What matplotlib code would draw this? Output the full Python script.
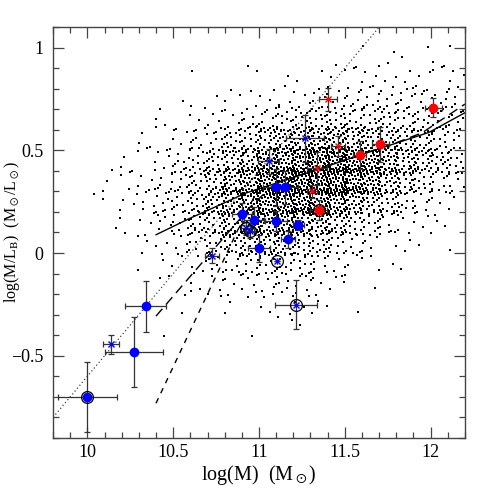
import numpy as np
import matplotlib
matplotlib.use("Agg")
import matplotlib.pyplot as plt
from matplotlib.ticker import MultipleLocator, FuncFormatter

plt.rcParams['font.family'] = ['Liberation Serif', 'DejaVu Serif']
plt.rcParams['mathtext.fontset'] = 'stix'

# ---------------- data ----------------
# density of the background sample (counts per 0.1 x 0.1 cell)
grid_x_left = [10.0, 10.1, 10.2, 10.3, 10.4, 10.5, 10.6, 10.7, 10.8, 10.9, 11.0,
               11.1, 11.2, 11.3, 11.4, 11.5, 11.6, 11.7, 11.8, 11.9, 12.0, 12.1]
grid_y_low = [0.9, 0.8, 0.7, 0.6, 0.5, 0.4, 0.3, 0.2, 0.1, 0.0, -0.1, -0.2, -0.3, -0.4]
grid_counts = [
    [0, 0, 0, 0, 0, 0, 0, 0, 0, 0, 0, 0, 0, 0, 0, 1, 1, 2, 1, 2, 1, 2],
    [0, 0, 0, 0, 0, 1, 0, 0, 0, 1, 1, 1, 1, 2, 2, 3, 3, 3, 3, 4, 3, 3],
    [0, 0, 0, 0, 0, 1, 1, 2, 2, 3, 4, 4, 5, 6, 6, 7, 8, 7, 7, 8, 6, 5],
    [0, 0, 0, 1, 2, 2, 3, 5, 6, 8, 10, 12, 14, 15, 15, 14, 14, 13, 12, 12, 10, 8],
    [0, 0, 1, 2, 3, 4, 7, 10, 14, 18, 22, 26, 30, 32, 32, 30, 27, 22, 18, 16, 14, 10],
    [0, 1, 2, 3, 5, 8, 12, 18, 24, 30, 40, 46, 52, 56, 58, 55, 48, 38, 28, 22, 18, 12],
    [1, 2, 3, 4, 7, 11, 16, 24, 32, 42, 52, 58, 62, 64, 62, 55, 42, 30, 22, 15, 10, 6],
    [1, 2, 3, 5, 8, 12, 18, 26, 34, 42, 50, 55, 55, 50, 44, 36, 26, 18, 12, 7, 4, 2],
    [0, 1, 2, 4, 6, 10, 15, 20, 26, 32, 36, 38, 36, 30, 24, 18, 12, 8, 5, 3, 2, 1],
    [0, 0, 1, 2, 4, 6, 9, 13, 17, 21, 24, 24, 20, 16, 12, 8, 5, 3, 2, 1, 1, 0],
    [0, 0, 0, 1, 2, 3, 5, 7, 9, 11, 12, 12, 10, 7, 5, 3, 2, 1, 1, 0, 0, 0],
    [0, 0, 0, 0, 1, 2, 2, 3, 4, 5, 6, 6, 5, 4, 2, 1, 1, 0, 0, 0, 0, 0],
    [0, 0, 0, 0, 0, 1, 1, 1, 2, 2, 2, 3, 2, 2, 1, 1, 0, 0, 0, 0, 0, 0],
    [0, 0, 0, 0, 1, 0, 0, 0, 0, 1, 0, 1, 1, 0, 0, 0, 0, 0, 0, 0, 0, 0],
]

# model curves
solid_x = [10.40, 10.60, 10.80, 10.92, 11.10, 11.30, 11.59, 11.80, 11.99, 12.20]
solid_y = [0.089, 0.170, 0.245, 0.291, 0.340, 0.395, 0.477, 0.535, 0.587, 0.683]
longdash_x = [10.40, 10.60, 10.80, 10.95, 11.05, 11.10, 11.30, 11.59, 11.80, 11.95, 12.20]
longdash_y = [-0.307, -0.113, 0.080, 0.225, 0.305, 0.342, 0.397, 0.479, 0.537, 0.585, 0.725]
shortdash_x = [10.40, 10.60, 10.80, 10.90, 11.00]
shortdash_y = [-0.731, -0.377, -0.023, 0.154, 0.320]
dotted_x = [9.80, 11.70]
dotted_y = [-0.80, 1.10]

# blue filled circles
bc_x = [10.00, 10.34, 10.27, 10.90, 10.97, 11.10, 11.23, 11.17, 11.00, 11.10, 11.15]
bc_y = [-0.70, -0.26, -0.48, 0.19, 0.163, 0.157, 0.137, 0.066, 0.024, 0.32, 0.32]
bc_xerr = [0.17, 0.12, 0.17, 0.058, 0.06, 0.066, 0.03, 0.04, 0.066, 0.075, 0.075]
bc_yerr = [0.17, 0.125, 0.17, 0.053, 0.06, 0.05, 0.025, 0.04, 0.066, 0.09, 0.08]

# blue asterisks
bs_x = [10.14, 10.727, 11.056, 11.268, 10.926, 10.95, 11.107, 11.218]
bs_y = [-0.444, -0.012, 0.447, 0.558, 0.120, 0.105, -0.041, -0.251]
bs_xerr = [0.047, 0.04, 0.06, 0.11, 0.03, 0.03, 0.0, 0.122]
bs_yerr = [0.047, 0.035, 0.06, 0.115, 0.03, 0.03, 0.0, 0.12]

# red asterisks
rs_x = [11.40, 11.46, 11.337, 11.31]
rs_y = [0.748, 0.521, 0.413, 0.30]
rs_xerr = [0.053, 0.04, 0.06, 0.03]
rs_yerr = [0.055, 0.05, 0.08, 0.03]

# red filled circles
rc_x = [11.347, 11.586, 11.706, 12.016]
rc_y = [0.21, 0.477, 0.529, 0.707]
rc_xerr = [0.05, 0.04, 0.05, 0.05]
rc_yerr = [0.05, 0.07, 0.085, 0.046]

# objects marked with an open black ring
ring_x = [10.00, 10.926, 10.95, 11.107, 11.218, 11.347]
ring_y = [-0.70, 0.120, 0.105, -0.041, -0.251, 0.21]

# ---------------- figure ----------------
fig = plt.figure(figsize=(4.91, 4.91), dpi=100)
ax = fig.add_axes([0.108, 0.108, 0.839, 0.837])

# background cloud: spread each cell's count over the cell (low-discrepancy layout)
a1, a2 = 0.7548776662466927, 0.5698402909980532
px, py = [], []
for r, ylo in enumerate(grid_y_low):
    for c, xlo in enumerate(grid_x_left):
        n = grid_counts[r][c]
        off = (r * 22 + c) * 0.618034
        for k in range(n):
            u = (off + 0.5 + (k + 1) * a1) % 1.0
            v = (off * 1.3 + 0.5 + (k + 1) * a2) % 1.0
            px.append(xlo + (u * 1.3 - 0.15) * 0.1)
            py.append(ylo + (v * 1.3 - 0.15) * 0.1)
px = np.array(px); py = np.array(py)
keep = (px > 9.8) & (px < 12.2)
ax.scatter(px[keep], py[keep], s=0.7, marker='s', c='black', linewidths=0, zorder=1)

# model lines
ax.plot(solid_x, solid_y, color='black', lw=1.0, zorder=2)
ax.plot(longdash_x, longdash_y, color='black', lw=1.0, ls=(0, (7, 4)), zorder=2)
ax.plot(shortdash_x, shortdash_y, color='black', lw=1.0, ls=(0, (4, 4)), zorder=2)
ax.plot(dotted_x, dotted_y, color='#444444', lw=0.9, ls=(0, (1, 2)), zorder=2)

eb = dict(fmt='none', ecolor='#333333', elinewidth=0.9, capsize=2.5, capthick=0.9, zorder=3)
ax.errorbar(bc_x, bc_y, xerr=bc_xerr, yerr=bc_yerr, **eb)
ax.errorbar(bs_x, bs_y, xerr=bs_xerr, yerr=bs_yerr, **eb)
ax.errorbar(rs_x, rs_y, xerr=rs_xerr, yerr=rs_yerr, **eb)
ax.errorbar(rc_x, rc_y, xerr=rc_xerr, yerr=rc_yerr, **eb)

ax.plot(ring_x, ring_y, ls='none', marker='o', ms=8.5, mfc='none', mec='black', mew=0.9, zorder=4)
ax.plot(bc_x, bc_y, ls='none', marker='o', ms=6.0, color='#0000ff', zorder=5)
ax.plot(rc_x, rc_y, ls='none', marker='o', ms=6.0, color='#ff0000', zorder=5)
ax.plot(bs_x, bs_y, ls='none', marker='x', ms=5.0, mew=1.0, color='#0000ff', zorder=5)
ax.plot(rs_x, rs_y, ls='none', marker='x', ms=5.0, mew=1.0, color='#ff0000', zorder=5)

ax.set_xlim(9.8, 12.2)
ax.set_ylim(-0.9, 1.1)
ax.xaxis.set_major_locator(MultipleLocator(0.5))
ax.xaxis.set_minor_locator(MultipleLocator(0.1))
ax.yaxis.set_major_locator(MultipleLocator(0.5))
ax.yaxis.set_minor_locator(MultipleLocator(0.1))
fmt = FuncFormatter(lambda v, p: f'{v:g}'.replace('-', '\u2212'))
ax.xaxis.set_major_formatter(fmt)
ax.yaxis.set_major_formatter(fmt)
ax.tick_params(which='both', direction='in', top=True, right=True, color='#444444', width=0.9)
ax.tick_params(which='major', length=8, labelsize=13)
ax.tick_params(axis='x', which='major', pad=4)
ax.tick_params(axis='y', which='major', pad=7)
ax.tick_params(which='minor', length=4)
for s in ax.spines.values():
    s.set_color('#444444')
    s.set_linewidth(1.0)

ax.set_xlabel(r'log(M)  (M$_\odot$)', fontsize=14.5, va='center')
ax.set_ylabel(r'log(M/L$_{\rm B}$)  (M$_\odot$/L$_\odot$)', fontsize=11.5, va='center')
ax.xaxis.set_label_coords(0.499, -0.09)
ax.yaxis.set_label_coords(-0.1, 0.502)

fig.savefig('out.png', dpi=100)
